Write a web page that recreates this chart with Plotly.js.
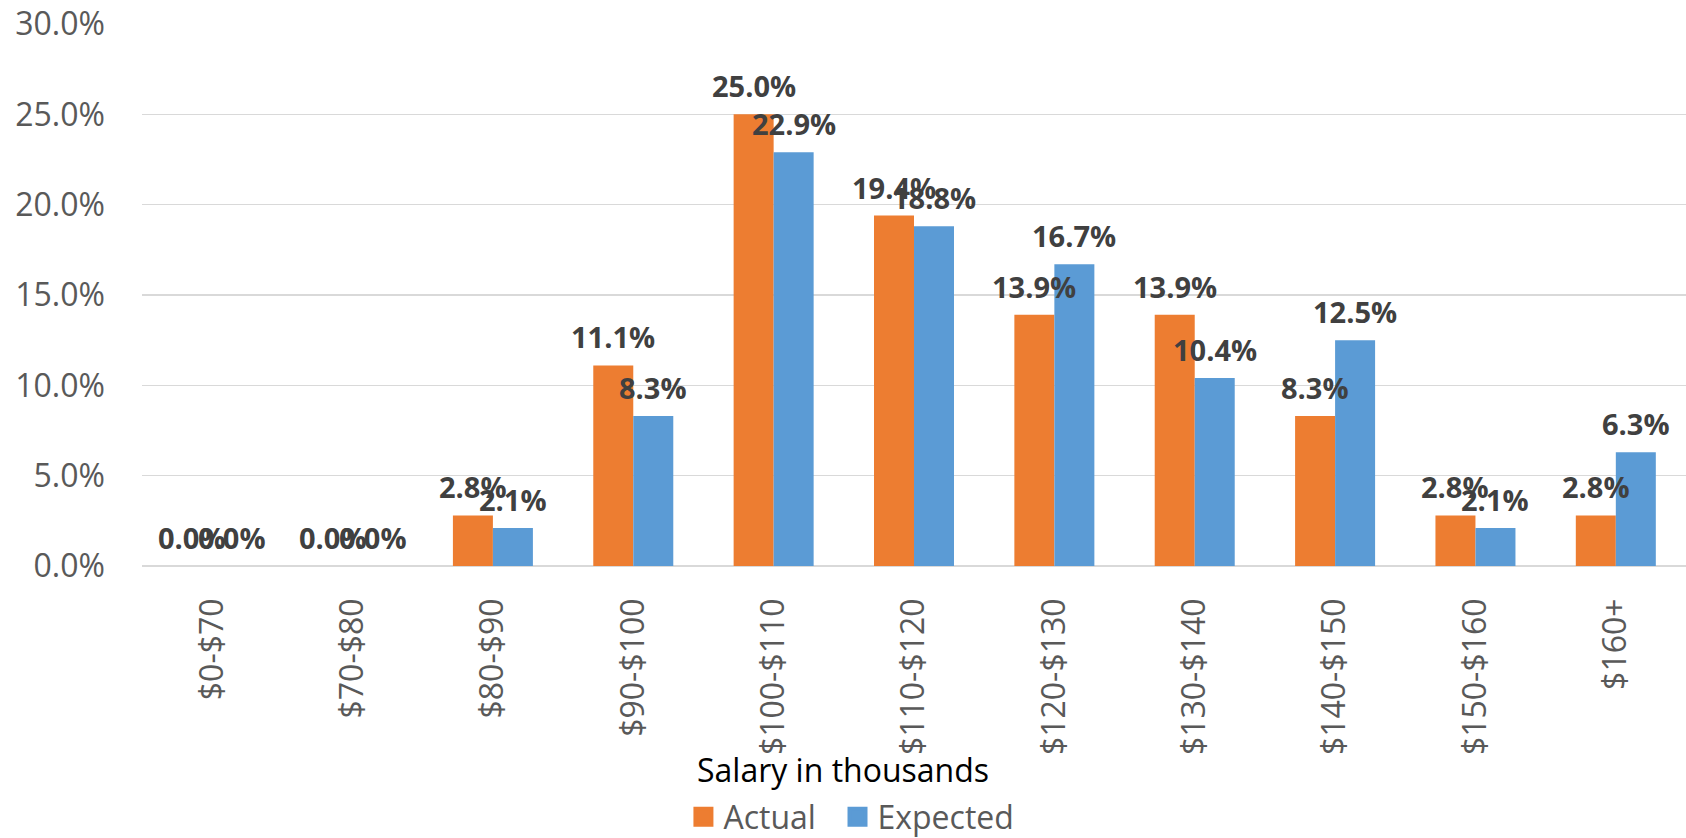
<!DOCTYPE html>
<html>
<head>
<meta charset="utf-8">
<script src="https://cdn.plot.ly/plotly-3.0.1.min.js"></script>
<style>
  html, body { margin: 0; padding: 0; background: #ffffff; }
  #chart { width: 1686px; height: 838px; }
</style>
</head>
<body>
<div id="chart"></div>
<script>
// ---- Data ----
var categories = ['$0-$70', '$70-$80', '$80-$90', '$90-$100', '$100-$110', '$110-$120',
                  '$120-$130', '$130-$140', '$140-$150', '$150-$160', '$160+'];
var actual   = [0.000, 0.000, 0.028, 0.111, 0.250, 0.194, 0.139, 0.139, 0.083, 0.028, 0.028];
var expected = [0.000, 0.000, 0.021, 0.083, 0.229, 0.188, 0.167, 0.104, 0.125, 0.021, 0.063];
var seriesNames = ['Actual', 'Expected'];
var yTickVals = [0, 0.05, 0.10, 0.15, 0.20, 0.25, 0.30];
var xTitle = 'Salary in thousands';

var FONT = '"Open Sans", "Noto Sans", sans-serif';
var COLORS = ['#ED7D31', '#5B9BD5'];
var NBSP = '\u00a0';

var traces = [
  { type: 'bar', name: seriesNames[0], x: categories, y: actual, showlegend: false,
    marker: { color: COLORS[0] }, hoverinfo: 'none' },
  { type: 'bar', name: seriesNames[1], x: categories, y: expected, showlegend: false,
    marker: { color: COLORS[1] }, hoverinfo: 'none' }
];
// legend entries with larger square swatches (no data points drawn)
seriesNames.forEach(function (n, s) {
  traces.push({
    type: 'scatter', mode: 'markers',
    name: s === 0 ? n + NBSP + NBSP : n,
    x: [null], y: [null],
    marker: { symbol: 'square', size: 16, color: COLORS[s],
              line: { color: COLORS[s], width: 4 } },
    hoverinfo: 'none', showlegend: true
  });
});

function pct(v) { return (v * 100).toFixed(1) + '%'; }

var annotations = [];
[actual, expected].forEach(function (vals, s) {
  vals.forEach(function (v, i) {
    annotations.push({
      x: categories[i], y: v, xref: 'x', yref: 'y',
      text: pct(v), showarrow: false,
      xshift: s === 0 ? -20 : 20, yshift: 7,
      yanchor: 'bottom', xanchor: 'center',
      font: { family: FONT, size: 29, color: '#404040', weight: 700 }
    });
  });
});
annotations.push({
  xref: 'paper', yref: 'paper', x: 0.454, y: -0.376,
  xanchor: 'center', yanchor: 'middle', showarrow: false,
  text: xTitle, font: { family: FONT, size: 32, color: '#000000' }
});

var layout = {
  width: 1686, height: 838,
  margin: { l: 142, r: 0, t: 24, b: 272, autoexpand: false },
  paper_bgcolor: '#ffffff', plot_bgcolor: '#ffffff',
  barmode: 'group', bargap: 0.43, bargroupgap: 0,
  font: { family: FONT, color: '#595959' },
  xaxis: {
    type: 'category', tickangle: -90, showgrid: false, showline: false,
    zeroline: false, ticks: '', ticklabelstandoff: 25, automargin: false,
    tickfont: { family: FONT, size: 32, color: '#595959' }
  },
  yaxis: {
    range: [0, 0.30], tickvals: yTickVals, tickformat: '.1%',
    showgrid: true, gridcolor: '#d9d9d9', gridwidth: 1.5,
    zeroline: true, zerolinecolor: '#d9d9d9', zerolinewidth: 1.5,
    showline: false, ticks: '', ticklabelstandoff: 36, automargin: false,
    tickfont: { family: FONT, size: 32, color: '#595959' }
  },
  showlegend: true,
  legend: {
    orientation: 'h', xref: 'container', yref: 'container',
    x: 0.505, y: 0.025, xanchor: 'center', yanchor: 'middle',
    font: { family: FONT, size: 32, color: '#595959' },
    itemwidth: 30, tracegroupgap: 0, bgcolor: 'rgba(0,0,0,0)'
  },
  annotations: annotations
};

Plotly.newPlot('chart', traces, layout, { displayModeBar: false, staticPlot: true });
</script>
</body>
</html>
